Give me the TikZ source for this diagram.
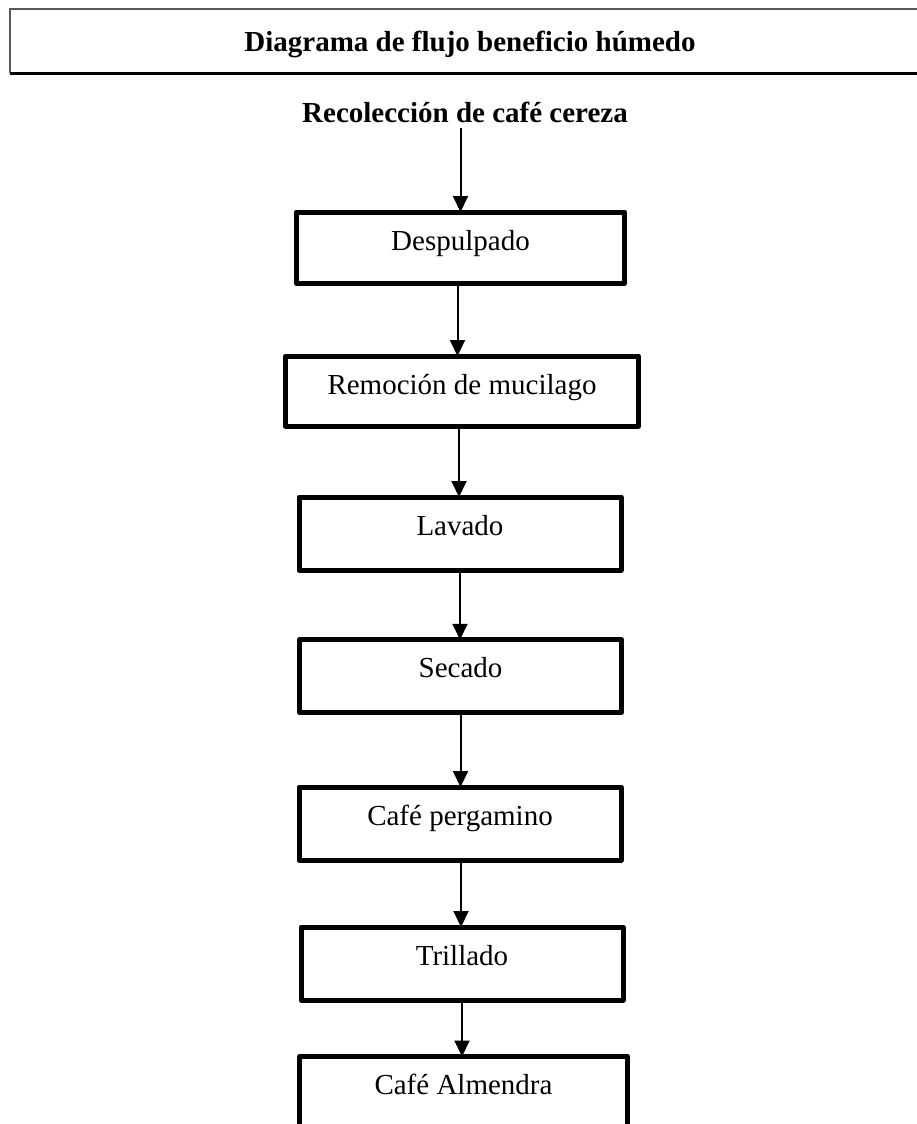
\documentclass[tikz,border=0pt]{standalone}
\usepackage{fontspec}
\setmainfont{Liberation Serif}
\usetikzlibrary{arrows.meta}

\begin{document}
\begin{tikzpicture}[x=1pt,y=-1pt,
  stepbox/.style={draw=black, line width=5pt, line join=round, rectangle,
    inner sep=0pt, outer sep=0pt},
  steptext/.style={anchor=base, inner sep=0pt, font=\fontsize{29}{34}\selectfont},
  headtext/.style={anchor=base, inner sep=0pt, font=\fontsize{29}{34}\selectfont\bfseries},
  arr/.style={draw=black, line width=2pt, -{Triangle[width=15pt,length=16pt]}}]

  % page frame
  \useasboundingbox (0,0) rectangle (916,1124);

  % heading frame (runs past the right margin)
  \draw[black!65, line width=2pt] (10,73.5) -- (10,9) -- (930,9);
  \draw[black, line width=2pt] (10,73.5) -- (930,73.5);
  \node[headtext] (title) at (470,52) {Diagrama de flujo beneficio húmedo};

  % starting step
  \node[headtext] (rec) at (465,122) {Recolección de café cereza};

  % process boxes
  \node[stepbox, minimum width=328pt, minimum height=71.5pt] (des) at (460.5,247.75) {};
  \node[stepbox, minimum width=353pt, minimum height=70pt]   (rem) at (462,391) {};
  \node[stepbox, minimum width=322pt, minimum height=73pt]   (lav) at (460,533.5) {};
  \node[stepbox, minimum width=322pt, minimum height=72.5pt] (sec) at (460.5,676) {};
  \node[stepbox, minimum width=322pt, minimum height=73pt]   (per) at (460,823.5) {};
  \node[stepbox, minimum width=322pt, minimum height=73pt]   (tri) at (462,963.5) {};
  \node[stepbox, minimum width=328pt, minimum height=80pt]   (alm) at (463.5,1096.5) {};

  % box labels, set a fixed distance below each top edge
  \node[steptext] (tdes) at ([yshift=-38pt]des.north) {Despulpado};
  \node[steptext] (trem) at ([yshift=-38pt]rem.north) {Remoción de mucilago};
  \node[steptext] (tlav) at ([yshift=-38pt]lav.north) {Lavado};
  \node[steptext] (tsec) at ([yshift=-38pt]sec.north) {Secado};
  \node[steptext] (tper) at ([yshift=-38pt]per.north) {Café pergamino};
  \node[steptext] (ttri) at ([yshift=-38pt]tri.north) {Trillado};
  \node[steptext] (talm) at ([yshift=-38pt]alm.north) {Café Almendra};

  % flow arrows
  \draw[arr] ([yshift=-6pt]rec.south -| des.north) -- (des.north);
  \draw[arr] ([xshift=-3pt]des.south) -- ([xshift=-3pt]des.south |- rem.north);
  \draw[arr] ([xshift=-3pt]rem.south) -- ([xshift=-3pt]rem.south |- lav.north);
  \draw[arr] (lav.south) -- (lav.south |- sec.north);
  \draw[arr] (sec.south) -- (sec.south |- per.north);
  \draw[arr] ([xshift=1pt]per.south) -- ([xshift=1pt]per.south |- tri.north);
  \draw[arr] (tri.south) -- (tri.south |- alm.north);
\end{tikzpicture}
\end{document}
